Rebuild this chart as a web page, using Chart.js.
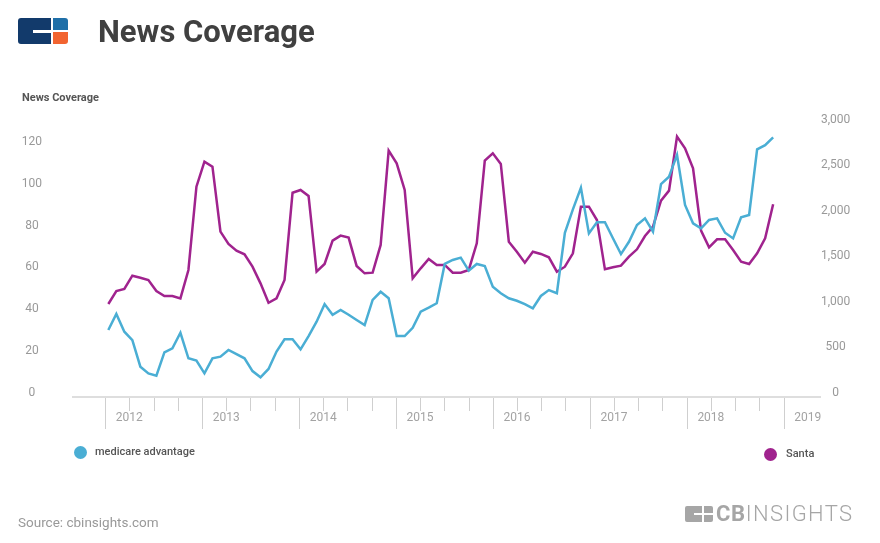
<!DOCTYPE html>
<html>
<head>
<meta charset="utf-8">
<script src="https://cdn.jsdelivr.net/npm/chart.js@4.4.1/dist/chart.umd.min.js"></script>
<style>
  html, body { margin: 0; padding: 0; background: #fff; }
  body { width: 880px; height: 543px; position: relative; overflow: hidden; font-family: Roboto, "Noto Sans", sans-serif; }
  #chart { position: absolute; left: 0; top: 0; }
  .abs { position: absolute; white-space: nowrap; }
  .title { left: 98px; top: 16px; font-size: 31px; line-height: 31px; font-weight: 700; color: #404040; }
  .ytitle { left: 22px; top: 91px; font-size: 11px; line-height: 14px; font-weight: 700; color: #555; }
  .legend { font-size: 11px; line-height: 14px; color: #555; font-weight: 500; }
  .dot { position: absolute; width: 13px; height: 13px; border-radius: 50%; }
  .source { left: 18px; top: 514px; font-size: 13.5px; line-height: 16px; color: #999; }
  .cbtext { left: 716px; top: 502px; font-size: 22px; line-height: 24px; color: #a6a6a6; letter-spacing: 1.4px; font-weight: 300; }
  .cbtext b { font-weight: 700; letter-spacing: 0.6px; }
</style>
</head>
<body>
<canvas id="chart" width="880" height="543"></canvas>

<!-- top logo -->
<svg class="abs" style="left:18px;top:18px" width="52" height="26" viewBox="0 0 52 26">
  <path d="M3 0 H33 V12 H15 V15 H33 V26 H3 Q0 26 0 23 V3 Q0 0 3 0 Z" fill="#123a6b"/>
  <path d="M35 0 H47 Q50 0 50 3 V12 H35 Z" fill="#1f6fa8"/>
  <path d="M35 14 H50 V23 Q50 26 47 26 H35 Z" fill="#f26430"/>
</svg>
<div class="abs title">News Coverage</div>
<div class="abs ytitle">News Coverage</div>

<!-- legend -->
<div class="dot" style="left:74px;top:446px;background:#4aaed4"></div>
<div class="abs legend" style="left:95px;top:445px">medicare advantage</div>
<div class="dot" style="left:764px;top:448px;background:#a0238e"></div>
<div class="abs legend" style="left:786px;top:447px">Santa</div>

<!-- footer -->
<div class="abs source">Source: cbinsights.com</div>
<svg class="abs" style="left:685px;top:506px" width="28" height="16" viewBox="0 0 28 16">
  <path d="M2 0 H17 V7 H9 V9 H17 V16 H2 Q0 16 0 14 V2 Q0 0 2 0 Z" fill="#a6a6a6"/>
  <path d="M19 0 H26 Q28 0 28 2 V7 H19 Z" fill="#a6a6a6"/>
  <path d="M19 9 H28 V14 Q28 16 26 16 H19 Z" fill="#a6a6a6"/>
</svg>
<div class="abs cbtext"><b>CB</b>INSIGHTS</div>

<script>
// monthly points, Jan 2012 .. Dec 2018
const years = ['2012', '2013', '2014', '2015', '2016', '2017', '2018', '2019'];

const medicareAdvantage = [
  30.1, 37.8, 29.3, 25.3, 12.6, 9.4, 8.3, 19.4, 21.4, 28.8, 16.6, 15.5,
  9.4, 16.6, 17.4, 20.6, 18.6, 16.6, 10.5, 7.5, 11.5, 19.8, 25.7, 25.7,
  20.9, 27.2, 34.1, 42.5, 37.4, 39.7, 37.4, 34.9, 32.5, 44.5, 48.4, 45.3,
  27.2, 27.2, 31.2, 38.9, 40.8, 42.9, 61.7, 63.6, 64.7, 58.5, 61.7, 60.7,
  50.8, 47.7, 45.3, 44.1, 42.5, 40.5, 46.4, 49.2, 47.7, 76.6, 87.8, 98.1,
  76.3, 81.6, 81.6, 74.0, 66.4, 72.3, 80.3, 83.5, 77.1, 99.9, 103.4, 113.8,
  89.9, 81.1, 78.7, 82.7, 83.5, 76.6, 73.9, 84.0, 85.1, 116.5, 118.5, 122.2
];

const santa = [
  978, 1121, 1143, 1289, 1267, 1242, 1121, 1066, 1066, 1040, 1352, 2267,
  2542, 2487, 1773, 1638, 1564, 1524, 1388, 1205, 992, 1040, 1242, 2201,
  2231, 2165, 1333, 1418, 1674, 1729, 1707, 1396, 1315, 1322, 1627, 2663,
  2524, 2231, 1260, 1370, 1473, 1407, 1407, 1322, 1322, 1352, 1645, 2553,
  2634, 2517, 1663, 1553, 1432, 1553, 1528, 1491, 1333, 1388, 1535, 2048,
  2048, 1901, 1359, 1381, 1399, 1498, 1579, 1725, 1828, 2114, 2224, 2817,
  2689, 2469, 1784, 1601, 1689, 1689, 1572, 1443, 1418, 1535, 1700, 2074
];

const leftTicks = [0, 20, 40, 60, 80, 100, 120];
const rightTicks = [0, 500, 1000, 1500, 2000, 2500, 3000];

// x axis in months since Jan 2012
const yearSpan = 12.1;
const tickStart = -0.4;

const toPoints = arr => arr.map((v, i) => ({ x: i, y: v }));

// quarter tick marks, longer at year boundaries
const tickMarks = {
  id: 'tickMarks',
  afterDraw(chart) {
    const ctx = chart.ctx;
    const xs = chart.scales.x;
    const y0 = chart.chartArea.bottom + 1;
    ctx.save();
    ctx.strokeStyle = '#cfcfcf';
    ctx.lineWidth = 1;
    for (let q = 0; q <= years.length * 4 - 4; q++) {
      const px = Math.round(xs.getPixelForValue(tickStart + q * yearSpan / 4)) + 0.5;
      const len = q % 4 === 0 ? 31 : 13;
      ctx.beginPath();
      ctx.moveTo(px, y0);
      ctx.lineTo(px, y0 + len);
      ctx.stroke();
    }
    ctx.restore();
  }
};

new Chart(document.getElementById('chart'), {
  type: 'line',
  data: {
    datasets: [{
      label: 'medicare advantage',
      data: toPoints(medicareAdvantage),
      borderColor: '#4aaed4',
      borderWidth: 2.5,
      pointRadius: 0,
      tension: 0,
      yAxisID: 'y'
    }, {
      label: 'Santa',
      data: toPoints(santa),
      borderColor: '#a0238e',
      borderWidth: 2.5,
      pointRadius: 0,
      tension: 0,
      yAxisID: 'y1'
    }]
  },
  options: {
    responsive: false,
    animation: false,
    layout: { padding: { top: 120, left: 0, right: 0, bottom: 0 } },
    plugins: { legend: { display: false }, tooltip: { enabled: false } },
    scales: {
      x: {
        type: 'linear',
        min: -4.41,
        max: 88.85,
        afterFit: axis => { axis.height = 146; },
        afterBuildTicks: axis => {
          axis.ticks = years.map((y, i) => ({ value: tickStart + i * yearSpan + yearSpan / 4 }));
        },
        ticks: {
          color: '#a3a3a3',
          font: { family: 'Roboto', size: 12 },
          padding: 14,
          callback: (v, i) => years[i]
        },
        grid: { display: false, drawTicks: false },
        border: { display: true, color: '#dedede', width: 2 }
      },
      y: {
        position: 'left',
        min: -1.9,
        max: 130.5,
        afterFit: axis => { axis.width = 73; },
        afterBuildTicks: axis => { axis.ticks = leftTicks.map(v => ({ value: v })); },
        ticks: {
          color: '#999',
          font: { family: 'Roboto', size: 12 },
          crossAlign: 'center',
          padding: 31
        },
        grid: { display: false, drawTicks: false },
        border: { display: false }
      },
      y1: {
        position: 'right',
        min: -44,
        max: 3000,
        afterFit: axis => { axis.width = 60; },
        afterBuildTicks: axis => { axis.ticks = rightTicks.map(v => ({ value: v })); },
        ticks: {
          color: '#999',
          font: { family: 'Roboto', size: 12 },
          crossAlign: 'center',
          padding: 1,
          callback: v => v.toLocaleString('en-US')
        },
        grid: { display: false, drawTicks: false },
        border: { display: false }
      }
    }
  },
  plugins: [tickMarks]
});
</script>
</body>
</html>
